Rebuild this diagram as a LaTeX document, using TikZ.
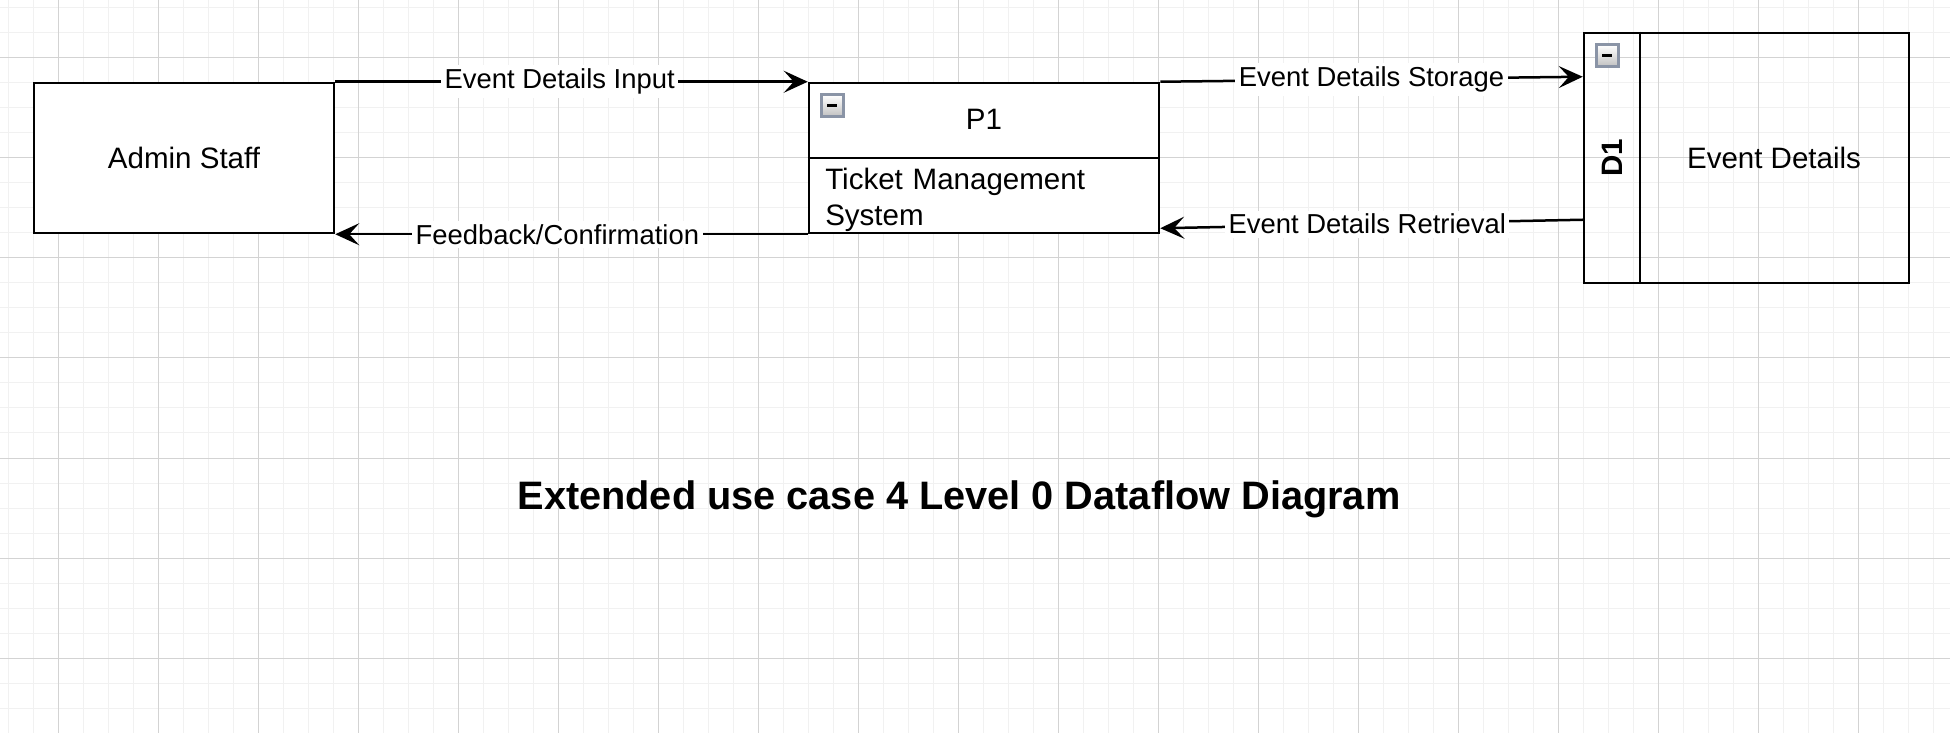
\documentclass[tikz,border=0pt]{standalone}
\usepackage{fontspec}
\setmainfont{Liberation Sans}
\usetikzlibrary{arrows.meta, positioning}
\usepackage{xcolor}
\definecolor{gridminor}{HTML}{F1F1F1}
\definecolor{gridmajor}{HTML}{D3D3D3}
\definecolor{btnedge}{HTML}{8A94A6}
\def\boxfont{\fontsize{8.4}{10.1}\selectfont}
\def\flowfont{\fontsize{7.8}{9.4}\selectfont}

\begin{document}
\begin{tikzpicture}[x=0.1mm, y=-0.1mm, line width=0.25mm, >={Stealth[length=2.4mm, width=2.2mm, inset=1mm]}]
    \tikzstyle{entity}=[rectangle, draw=black, fill=white, minimum width=3cm, minimum height=1.5cm, inner sep=0pt, font=\boxfont]
    \tikzstyle{process}=[entity, minimum width=3.5cm]
    \tikzstyle{store}=[rectangle, draw=black, minimum width=3.25cm, minimum height=2.5cm, inner sep=0pt]
    \tikzstyle{flow}=[->, draw=black]
    \tikzstyle{flow label}=[fill=white, inner sep=1pt, font=\flowfont]
    \tikzstyle{collapse}=[rectangle, draw=btnedge, line width=0.3mm, top color=white, bottom color=black!25, minimum size=2.2mm, inner sep=0pt,
        path picture={\fill[black] ([xshift=-0.5mm,yshift=-0.15mm]path picture bounding box.center) rectangle ([xshift=0.5mm,yshift=0.15mm]path picture bounding box.center);}]

    % Draw the background grid
    \useasboundingbox (0,0) rectangle (1950,733);
    \fill[white] (0,0) rectangle (1950,733);
    \foreach \gx in {8,33,...,1950}
        \draw[gridminor, line width=0.1mm] (\gx,0) -- (\gx,733);
    \foreach \gy in {8,33,...,733}
        \draw[gridminor, line width=0.1mm] (0,\gy) -- (1950,\gy);
    \foreach \gx in {58,158,...,1950}
        \draw[gridmajor, line width=0.1mm] (\gx,0) -- (\gx,733);
    \foreach \gy in {58,158,...,733}
        \draw[gridmajor, line width=0.1mm] (0,\gy) -- (1950,\gy);

    % Draw the external entity
    \node[entity] (E-1) at (184,158) {Admin Staff};

    % Draw the process
    \node[process] (P-1) at (984,158) {};
    \draw (P-1.west) -- (P-1.east);
    \node[collapse] (P-1-btn) at (832,106) {};
    \node[font=\boxfont, anchor=base] (P-1-id) at (984,130) {P1};
    \node[font=\boxfont, anchor=base west, text width=3.3cm, align=left, inner sep=0pt] (P-1-name) at (824,190) {Ticket Management\\System};

    % Draw the data store
    \node[store] (D-1) at (1746.5,158) {};
    \draw ([xshift=5.7mm]D-1.north west) -- ([xshift=5.7mm]D-1.south west);
    \node[collapse] (D-1-btn) at (1607,56) {};
    \node[font=\boxfont\bfseries, rotate=90] (D-1-id) at (1612,158) {D1};
    \node[font=\boxfont] (D-1-name) at (1774,158) {Event Details};

    % Draw the data flows
    \draw[flow] (E-1.north east) -- node[flow label, pos=0.475] {Event Details Input} (P-1.north west);
    \draw[flow] (P-1.south west) -- node[flow label, pos=0.53] {Feedback/Confirmation} (E-1.south east);
    \draw[flow] (P-1.north east) -- node[flow label] {Event Details Storage} ([yshift=-4.5mm]D-1.north west);
    \draw[flow] ([yshift=-18.8mm]D-1.north west) -- node[flow label, pos=0.51] {Event Details Retrieval} ([yshift=0.6mm]P-1.south east);

    \node[font=\fontsize{11.3}{13.6}\selectfont\bfseries, anchor=base] (title) at (959,509) {Extended use case 4 Level 0 Dataflow Diagram};
\end{tikzpicture}
\end{document}
